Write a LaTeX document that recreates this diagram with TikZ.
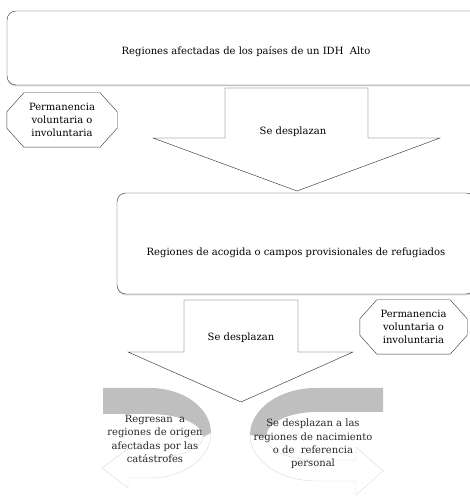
\documentclass[tikz,border=0pt]{standalone}
\usepackage{fontspec}
\setmainfont{DejaVu Serif}
\usetikzlibrary{shadows}

\begin{document}
\begin{tikzpicture}[x=1pt,y=1pt,
  font=\fontsize{10}{13.2}\selectfont,
  regionbox/.style={draw=black!80,rounded corners=9pt,fill=white,
    drop shadow={shadow xshift=0pt,shadow yshift=-1.5pt,opacity=.3}},
  octobox/.style={align=center,inner sep=0pt,minimum height=54pt},
  octoline/.style={draw=black!80,fill=white,line join=miter},
  blockarrow/.style={draw=black!85,fill=white,line join=miter},
  backband/.style={fill=black!25},
  frontband/.style={draw=black!15,fill=white},
  turnlabel/.style={align=center,text=black!85}]
  \useasboundingbox (0,0) rectangle (469,497);

  % regiones
  \node[regionbox,minimum width=478pt,minimum height=74pt] (altas) at (246,449) {};
  \node (altastxt) at (246,445) {Regiones afectadas de los países de un IDH\ \ Alto};
  \node[regionbox,minimum width=358pt,minimum height=101pt] (acogida) at (296,253.5) {};
  \node (acogidatxt) at (296,244) {Regiones de acogida o campos provisionales de refugiados};

  % permanencia
  \node[octobox,minimum width=110pt] (quedarA) at (62,377) {};
  \node[octobox,minimum width=107pt] (quedarB) at (413.5,170) {};
  \foreach \q in {quedarA,quedarB}
    \draw[octoline] ([xshift=17pt]\q.north west) -- ([xshift=-17pt]\q.north east)
      -- ([yshift=-19pt]\q.north east) -- ([yshift=19pt]\q.south east)
      -- ([xshift=-17pt]\q.south east) -- ([xshift=17pt]\q.south west)
      -- ([yshift=19pt]\q.south west) -- ([yshift=-19pt]\q.north west) -- cycle;
  \node[octobox] (quedarAtxt) at (quedarA) {Permanencia\\voluntaria o\\involuntaria};
  \node[octobox] (quedarBtxt) at (quedarB) {Permanencia\\voluntaria o\\involuntaria};

  % flechas de bloque
  \draw[blockarrow] (225,409) -- (368,409) -- (368,359) -- (440,359)
    -- (297,306) coordinate (puntaA) -- (153,359) -- (225,359) -- cycle;
  \node (flechaAtxt) at (293,365) {Se desplazan};
  \draw[blockarrow] (184,197) -- (298,197) -- (298,145) -- (353,145)
    -- (241,95) coordinate (puntaB) -- (128,145) -- (184,145) -- cycle;
  \node (flechaBtxt) at (241,159) {Se desplazan};

  % vuelta izquierda
  \fill[backband] (103,109) -- (150,109) arc[start angle=90,end angle=0,x radius=61,y radius=45]
    -- (203,60) arc[start angle=0,end angle=90,x radius=53,y radius=23] -- (103,83) -- cycle;
  \draw[frontband] (211,64) arc[start angle=0,end angle=-90,x radius=61,y radius=45]
    -- (128,19) -- (128,9) -- (102,29) -- (128,48) -- (128,39) -- (150,39)
    arc[start angle=-90,end angle=0,x radius=53,y radius=21] -- cycle;
  \node[turnlabel] (regreso) at (155,58)
    {Regresan\ \ a\\regiones de origen\\afectadas por las\\catástrofes};

  % vuelta derecha
  \fill[backband] (383,109) -- (316,109) arc[start angle=90,end angle=180,x radius=66,y radius=47]
    -- (266,60) arc[start angle=180,end angle=90,x radius=50,y radius=25] -- (383,85) -- cycle;
  \draw[frontband] (250,62) arc[start angle=180,end angle=270,x radius=66,y radius=46]
    -- (356,16) -- (356,2) -- (383,26) -- (356,50) -- (356,37) -- (316,37)
    arc[start angle=270,end angle=180,x radius=50,y radius=23] -- cycle;
  \node[turnlabel] (nacimiento) at (313,53)
    {Se desplazan a las\\regiones de nacimiento\\o de\ \ referencia\\personal};
\end{tikzpicture}
\end{document}
